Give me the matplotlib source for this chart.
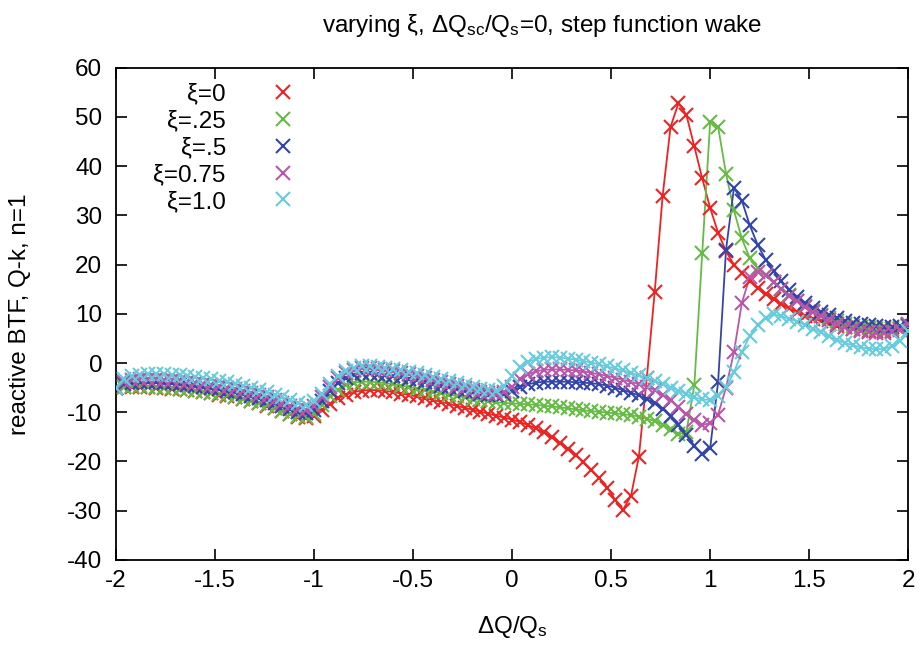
import numpy as np
import matplotlib
matplotlib.use("Agg")
import matplotlib.pyplot as plt

plt.rcParams['font.family'] = ['Liberation Sans', 'DejaVu Sans']
plt.rcParams['mathtext.fontset'] = 'custom'
plt.rcParams['mathtext.rm'] = 'Liberation Sans'
plt.rcParams['mathtext.it'] = 'Liberation Sans:italic'

# x grid (dQ/Qs), step 0.04 from -2 to 2
dq = np.round(np.arange(101) * 0.04 - 2.0, 2)

xi_0 = [-5.0, -4.9, -4.8, -4.8, -4.9, -5.0, -5.1, -5.2, -5.3, -5.5,
        -5.7, -5.9, -6.1, -6.4, -6.7, -7.0, -7.4, -7.8, -8.2, -8.7,
        -9.2, -9.8, -10.4, -10.9, -11.1, -10.7, -9.6, -8.3, -7.2, -6.4,
        -5.9, -5.6, -5.5, -5.5, -5.7, -5.9, -6.2, -6.5, -6.8, -7.2,
        -7.5, -7.9, -8.3, -8.7, -9.1, -9.5, -9.9, -10.3, -10.7, -11.1,
        -11.5, -12.0, -12.6, -13.3, -14.1, -15.1, -16.2, -17.4, -18.7, -20.1,
        -21.7, -23.4, -25.3, -27.8, -29.8, -27.0, -19.0, -3.0, 14.5, 34.0,
        48.0, 52.8, 50.4, 44.0, 37.5, 31.5, 26.5, 22.7, 20.0, 18.2,
        16.6, 15.3, 14.1, 13.0, 12.0, 11.1, 10.3, 9.6, 9.0, 8.5,
        8.0, 7.6, 7.3, 7.0, 6.8, 6.6, 6.5, 6.5, 6.6, 6.9,
        7.5]

xi_025 = [-5.0, -4.8, -4.7, -4.7, -4.8, -4.9, -5.0, -5.1, -5.2, -5.4,
          -5.6, -5.8, -6.0, -6.3, -6.6, -6.9, -7.3, -7.7, -8.1, -8.6,
          -9.1, -9.7, -10.3, -10.8, -11.0, -10.3, -8.6, -6.8, -5.4, -4.5,
          -4.0, -3.8, -3.8, -3.9, -4.1, -4.3, -4.6, -4.9, -5.2, -5.5,
          -5.8, -6.1, -6.4, -6.7, -7.0, -7.3, -7.5, -7.8, -8.0, -8.1,
          -8.2, -8.3, -8.4, -8.5, -8.7, -8.8, -9.0, -9.2, -9.4, -9.6,
          -9.8, -9.9, -10.1, -10.2, -10.4, -10.6, -10.9, -11.3, -11.8, -12.5,
          -13.5, -14.5, -14.0, -4.5, 22.4, 49.0, 48.0, 38.5, 31.0, 25.3,
          21.3, 19.3, 17.8, 16.4, 15.0, 13.8, 12.6, 11.6, 10.6, 9.8,
          9.1, 8.5, 8.0, 7.6, 7.3, 7.1, 7.0, 7.0, 7.0, 7.2,
          7.5]

xi_05 = [-5.0, -4.3, -4.0, -3.9, -3.9, -3.9, -4.0, -4.1, -4.2, -4.4,
         -4.6, -4.8, -5.0, -5.3, -5.6, -5.9, -6.3, -6.7, -7.1, -7.6,
         -8.1, -8.7, -9.3, -9.9, -10.2, -9.5, -7.7, -5.6, -4.0, -3.0,
         -2.4, -2.1, -2.1, -2.2, -2.4, -2.6, -2.9, -3.2, -3.5, -3.9,
         -4.2, -4.6, -4.9, -5.3, -5.6, -5.9, -6.2, -6.4, -6.5, -6.3,
         -5.7, -4.9, -4.3, -4.0, -3.8, -3.8, -3.8, -3.8, -3.9, -4.0,
         -4.1, -4.3, -4.6, -5.0, -5.5, -6.0, -6.6, -7.3, -8.2, -9.3,
         -10.8, -12.6, -14.6, -16.8, -18.5, -17.3, -3.9, 23.0, 35.6, 33.0,
         28.0, 24.0, 21.0, 18.6, 16.6, 14.9, 13.4, 12.2, 11.2, 10.4,
         9.7, 9.1, 8.6, 8.2, 7.9, 7.7, 7.5, 7.4, 7.4, 7.5,
         7.8]

xi_075 = [-5.0, -3.8, -3.4, -3.3, -3.3, -3.3, -3.4, -3.5, -3.6, -3.8,
          -4.0, -4.2, -4.4, -4.7, -5.0, -5.3, -5.7, -6.1, -6.5, -7.0,
          -7.5, -8.1, -8.7, -9.3, -9.6, -8.8, -6.9, -4.8, -3.1, -2.0,
          -1.4, -1.1, -1.1, -1.2, -1.4, -1.7, -2.0, -2.3, -2.7, -3.1,
          -3.5, -3.9, -4.3, -4.7, -5.1, -5.5, -5.8, -6.1, -6.2, -5.9,
          -4.8, -3.3, -2.3, -1.7, -1.4, -1.3, -1.3, -1.4, -1.5, -1.7,
          -2.0, -2.3, -2.6, -3.0, -3.4, -3.8, -4.3, -4.8, -5.5, -6.4,
          -7.6, -9.0, -10.4, -11.6, -12.6, -12.2, -10.5, -5.0, 2.2, 12.2,
          17.5, 18.5, 17.8, 16.4, 15.0, 13.7, 12.5, 11.4, 10.4, 9.5,
          8.7, 8.0, 7.4, 6.9, 6.5, 6.2, 6.0, 6.0, 6.2, 6.8,
          8.0]

xi_1 = [-5.0, -3.2, -2.6, -2.4, -2.3, -2.3, -2.3, -2.4, -2.5, -2.7,
        -2.9, -3.1, -3.3, -3.6, -3.9, -4.2, -4.6, -5.0, -5.4, -5.9,
        -6.4, -7.0, -7.6, -8.2, -8.5, -7.8, -6.2, -4.3, -2.7, -1.6,
        -1.0, -0.7, -0.7, -0.8, -1.0, -1.2, -1.5, -1.8, -2.1, -2.5,
        -2.9, -3.3, -3.7, -4.1, -4.5, -4.9, -5.2, -5.5, -5.6, -4.6,
        -2.6, -0.9, 0.2, 0.8, 1.1, 1.2, 1.1, 0.9, 0.7, 0.4,
        0.1, -0.3, -0.7, -1.1, -1.5, -2.0, -2.5, -3.0, -3.6, -4.3,
        -5.0, -5.6, -6.3, -7.0, -7.4, -7.5, -6.8, -4.9, -1.9, 2.2,
        5.5, 7.8, 9.2, 9.9, 9.5, 9.0, 8.4, 7.7, 7.0, 6.2,
        5.4, 4.7, 4.1, 3.6, 3.2, 2.9, 2.8, 2.9, 3.4, 4.5,
        6.5]

labels = ['ξ=0', 'ξ=.25', 'ξ=.5', 'ξ=0.75', 'ξ=1.0']
series = [xi_0, xi_025, xi_05, xi_075, xi_1]
colors = ['#ee2222', '#66bb44', '#3344aa', '#bb55aa', '#66ccdd']

FS = 17.5

fig = plt.figure(figsize=(9.22, 6.45), dpi=100)
ax = fig.add_axes([0.126, 0.132, 0.859, 0.763])

handles = []
for y, c, lab in zip(series, colors, labels):
    ax.plot(dq, y, '-', color=c, lw=1.3, zorder=2)
    h, = ax.plot(dq, y, 'x', color=c, ms=9.5, mew=1.5, zorder=3, label=lab)
    handles.append(h)

ax.set_xlim(-2, 2)
ax.set_ylim(-40, 60)
ax.set_xticks(np.arange(-2, 2.01, 0.5))
ax.set_xticklabels(['-2', '-1.5', '-1', '-0.5', '0', '0.5', '1', '1.5', '2'])
ax.set_yticks(np.arange(-40, 61, 10))
ax.set_yticklabels([str(v) for v in range(-40, 61, 10)])
ax.tick_params(direction='in', top=True, right=True, length=8, width=1.2,
               labelsize=FS, colors='black')
ax.tick_params(axis='y', pad=10)
ax.tick_params(axis='x', pad=7)
for s in ax.spines.values():
    s.set_linewidth(1.3)

ax.set_title(r'varying ξ, ΔQ$_{\mathrm{sc}}$/Q$_{\mathrm{s}}$=0, step function wake',
             fontsize=FS, pad=26, x=0.538)
ax.set_xlabel(r'ΔQ/Q$_{\mathrm{s}}$', fontsize=FS, labelpad=16)
ax.set_ylabel('reactive BTF, Q-k, n=1', fontsize=FS, labelpad=26)

leg = ax.legend(handles=handles, loc='upper right', bbox_to_anchor=(0.241, 0.968),
                markerfirst=False, frameon=False, fontsize=FS, handlelength=2.0,
                handletextpad=1.34, labelspacing=0.2, borderpad=0, borderaxespad=0)

fig.savefig('out.png', dpi=100)
